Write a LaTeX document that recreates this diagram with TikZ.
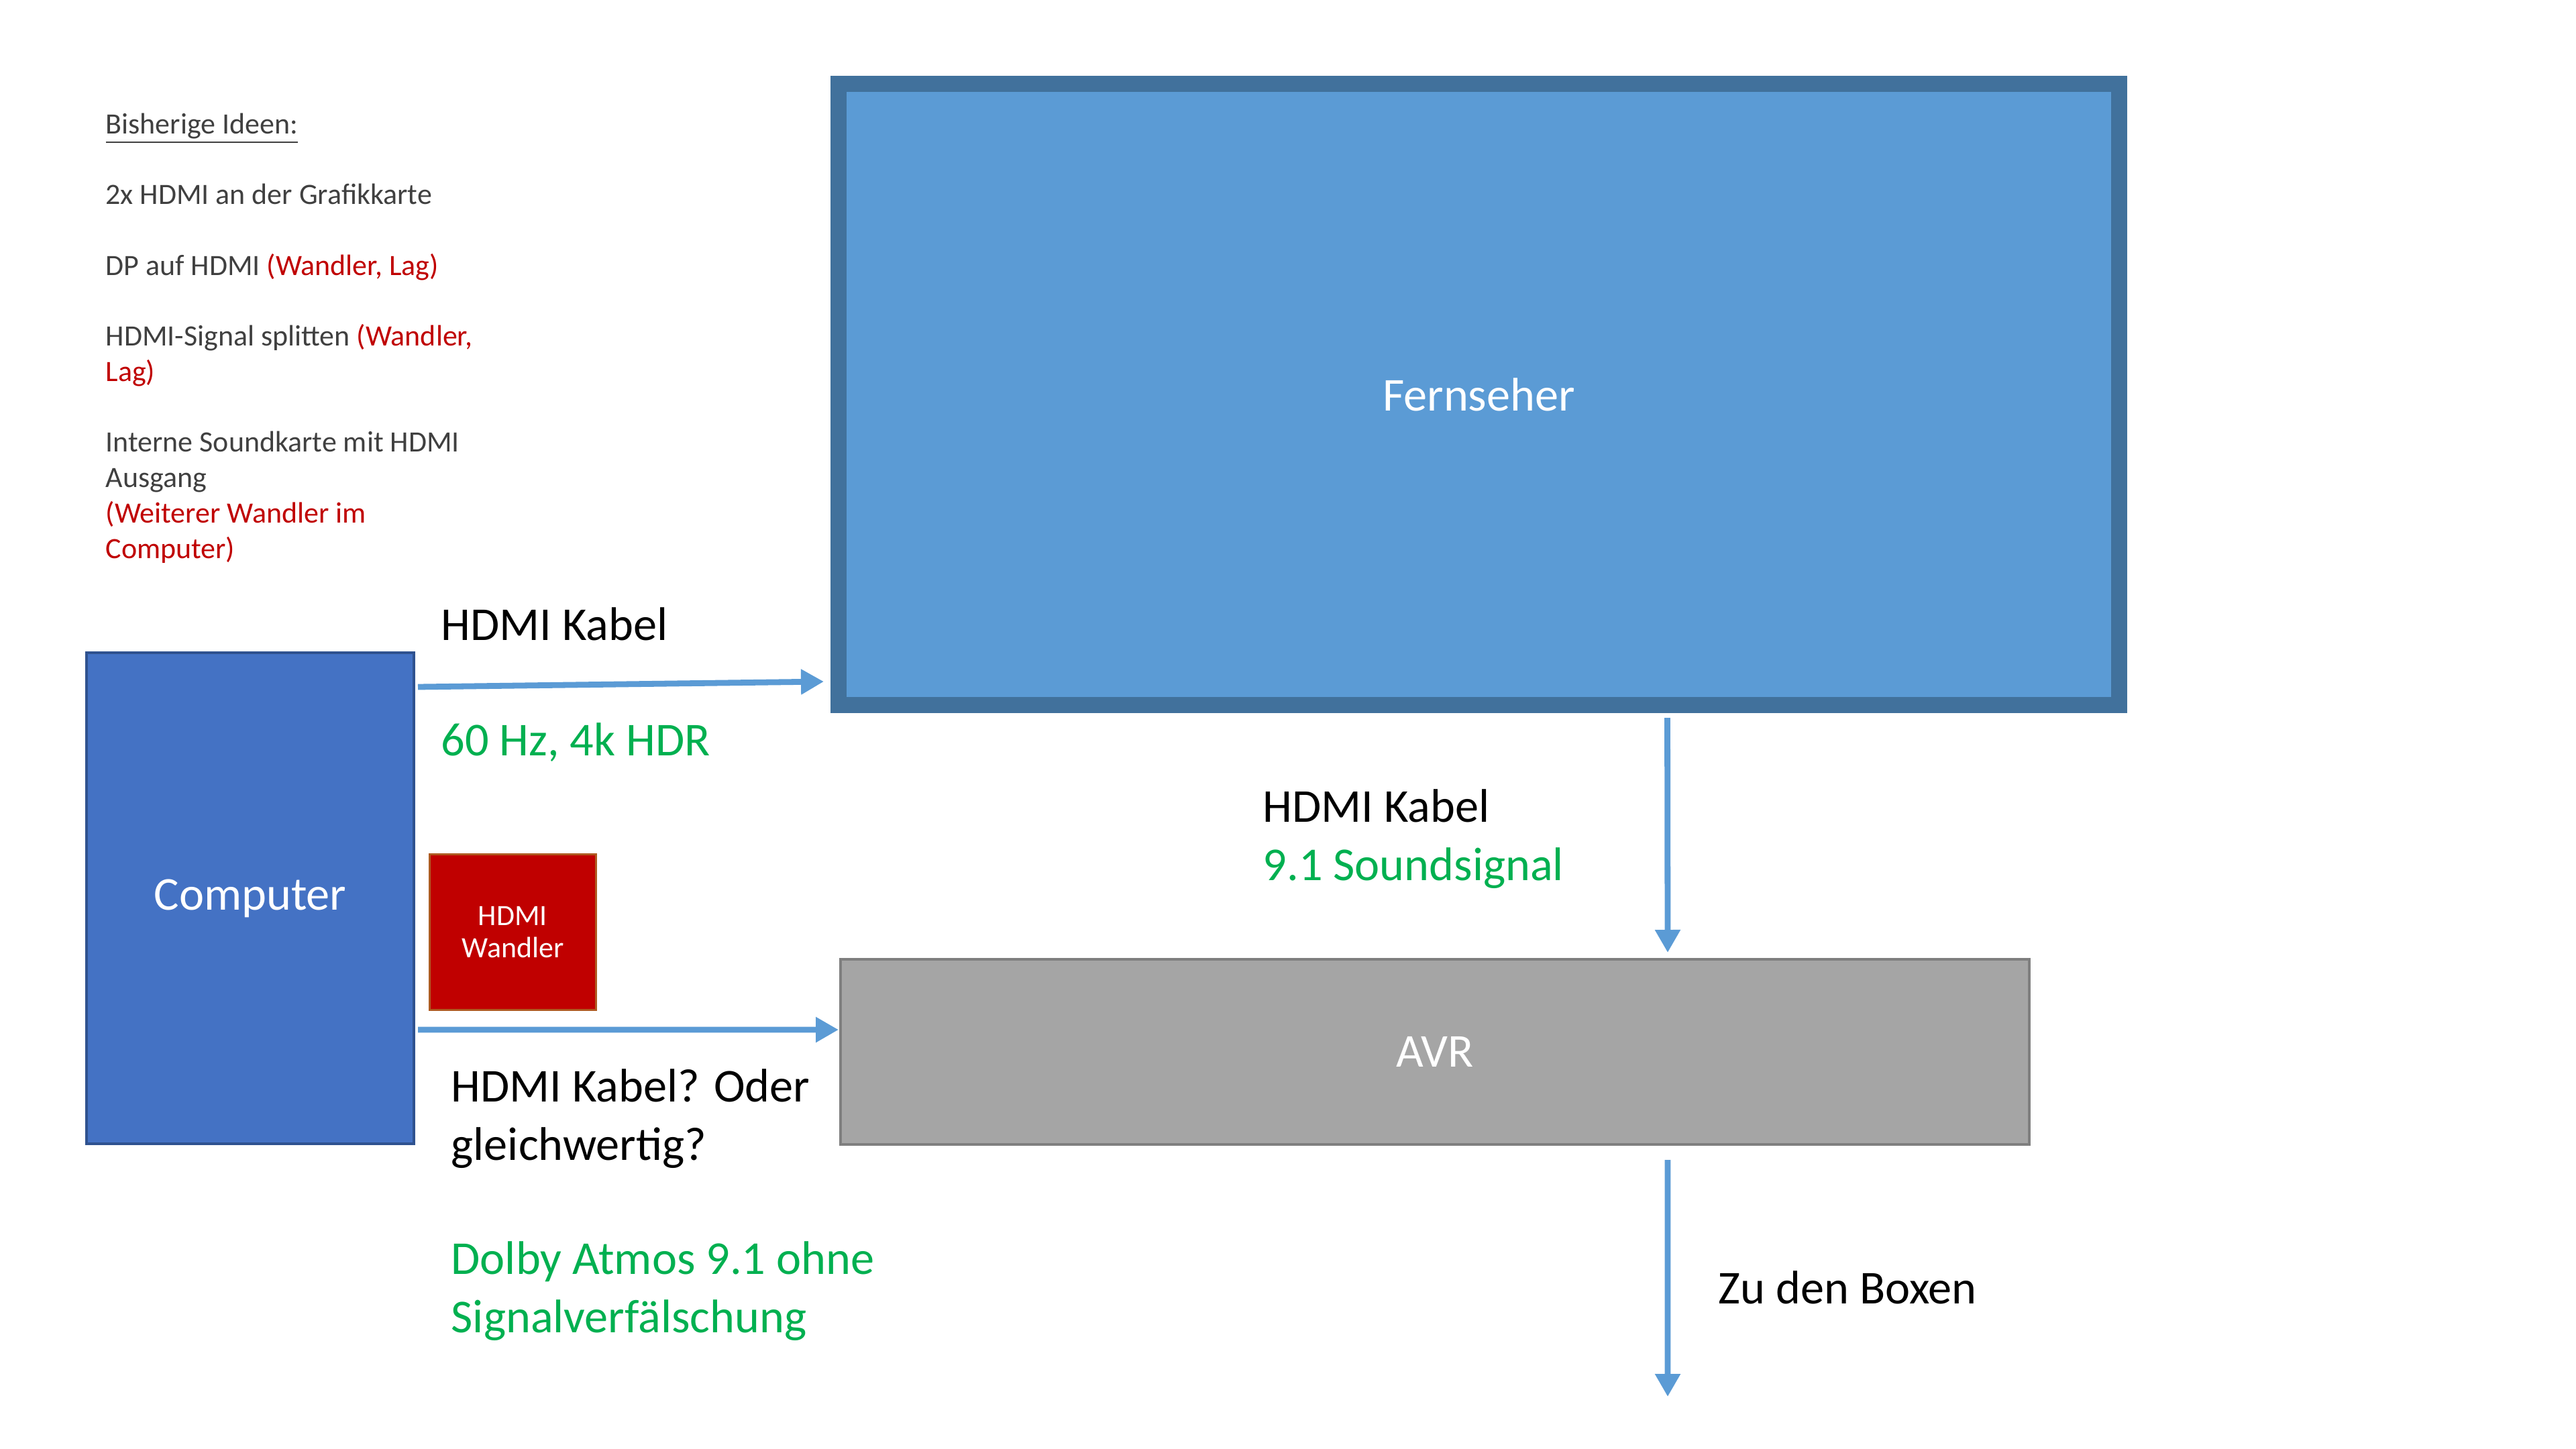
\documentclass[tikz,border=0pt]{standalone}
\usepackage{fontspec}
\setmainfont{Carlito}
\usetikzlibrary{arrows.meta}
\definecolor{tvfill}{HTML}{5B9BD5}
\definecolor{tvdraw}{HTML}{41719C}
\definecolor{pcfill}{HTML}{4472C4}
\definecolor{pcdraw}{HTML}{2F528F}
\definecolor{wfill}{HTML}{C00000}
\definecolor{wdraw}{HTML}{AE5A21}
\definecolor{avrfill}{HTML}{A5A5A5}
\definecolor{avrdraw}{HTML}{7F7F7F}
\definecolor{okgreen}{HTML}{00B050}
\definecolor{badred}{HTML}{C00000}
\definecolor{notegray}{HTML}{404040}
\begin{document}
\begin{tikzpicture}[box/.style={draw,rectangle,text=white,inner sep=0pt,outer sep=0pt,font=\fontsize{20}{24}\selectfont},
  lbl/.style={anchor=base west,inner sep=0pt,align=left,font=\fontsize{20}{24.75}\selectfont},
  cable/.style={draw=tvfill,line width=2.5pt,-{Triangle[length=0.34cm,width=0.36cm]}}]
\useasboundingbox[fill=white] (0,0) rectangle (38.4,-21.6);
% geraete
\node[box,fill=tvfill,draw=tvdraw,line width=0.24cm,minimum width=19.09cm,minimum height=9.26cm] (tv) at (22.045,-5.88) {Fernseher};
\node[box,fill=pcfill,draw=pcdraw,line width=0.04cm,minimum width=4.88cm,minimum height=7.32cm] (pc) at (3.73,-13.39) {Computer};
\node[box,fill=wfill,draw=wdraw,line width=0.03cm,minimum width=2.48cm,minimum height=2.32cm,align=center,font=\fontsize{12.5}{13.7}\selectfont] (wandler) at (7.645,-13.895) {HDMI\\Wandler};
\node[box,fill=avrfill,draw=avrdraw,line width=0.04cm,minimum width=17.72cm,minimum height=2.76cm] (avr) at (21.39,-15.68) {AVR};
% ideen (base = letzte Zeile)
\node[anchor=base west,inner sep=0pt,align=left,text=notegray,font=\fontsize{12.5}{15}\selectfont] (ideen) at (1.57,-8.32)
  {\underline{Bisherige Ideen:}\\[15pt]
   2x HDMI an der Grafikkarte\\[15pt]
   DP auf HDMI \textcolor{badred}{(Wandler, Lag)}\\[15pt]
   HDMI-Signal splitten \textcolor{badred}{(Wandler,}\\
   \textcolor{badred}{Lag)}\\[15pt]
   Interne Soundkarte mit HDMI\\
   Ausgang\\
   \textcolor{badred}{(Weiterer Wandler im}\\
   \textcolor{badred}{Computer)}};
% beschriftungen
\node[lbl] (kabeltv) at (6.57,-9.54) {HDMI Kabel};
\node[lbl,text=okgreen] (hdr) at (6.57,-11.26) {60 Hz, 4k HDR};
\node[lbl] (kabelavr) at (6.72,-17.29) {HDMI Kabel? Oder\\gleichwertig?};
\node[lbl,text=okgreen] (atmos) at (6.72,-19.86) {Dolby Atmos 9.1 ohne\\Signalverfälschung};
\node[lbl] (kabelsound) at (18.82,-13.12) {HDMI Kabel\\\textcolor{okgreen}{9.1 Soundsignal}};
\node[lbl] (boxen) at (25.61,-19.43) {Zu den Boxen};
% kabel
\coordinate (boxenend) at (24.86,-20.82);
\draw[cable] ([shift={(0.06,-0.51)}]pc.north east) -- ([shift={(-0.22,-8.91)}]tv.north west);
\draw[cable] ([shift={(0.06,-5.62)}]pc.north east) -- ([shift={(-0.03,-1.05)}]avr.north west);
\draw[cable] ([shift={(2.81,-0.19)}]tv.south) -- ([shift={(3.47,0.1)}]avr.north);
\draw[cable] ([shift={(3.47,-0.23)}]avr.south) -- (boxenend);
\end{tikzpicture}
\end{document}
